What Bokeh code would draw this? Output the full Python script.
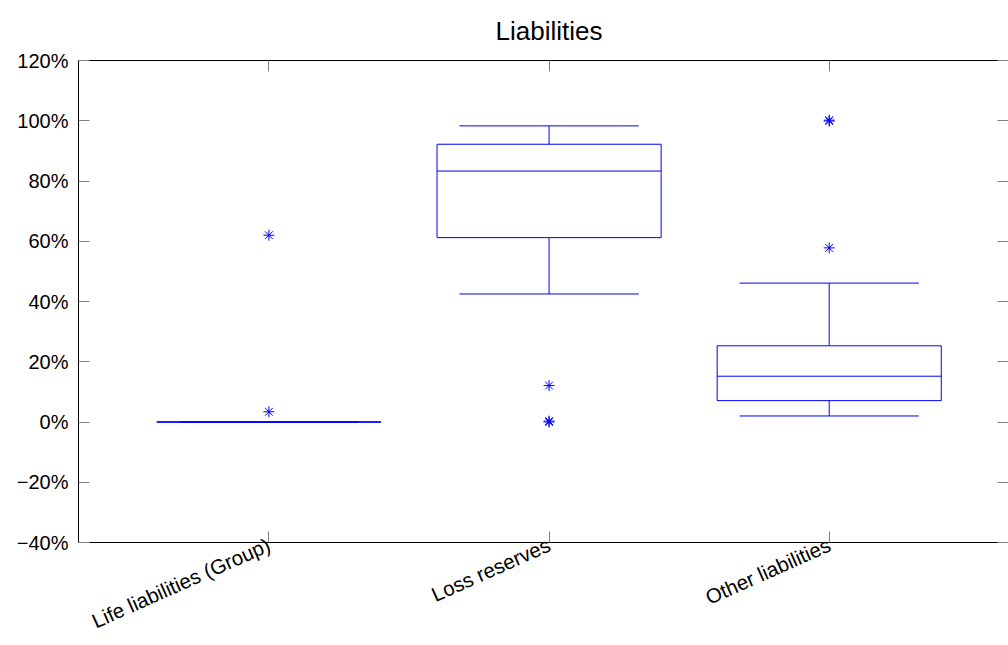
import math
from bokeh.plotting import figure
from bokeh.models import FixedTicker, LinearAxis, Range1d, ColumnDataSource
from bokeh.embed import file_html
from bokeh.resources import INLINE

# ---- data (values in percent) ----
categories = ["Life liabilities (Group)", "Loss reserves", "Other liabilities"]
positions = [1, 2, 3]
lower_whisker = [0.0, 42.5, 2.0]
q1 = [0.0, 61.2, 7.1]
median = [0.0, 83.3, 15.2]
q3 = [0.0, 92.2, 25.3]
upper_whisker = [0.0, 98.3, 46.1]
outlier_pos = [1, 1, 2, 2, 2, 3, 3, 3]
outlier_val = [62.0, 3.4, 12.1, 0.0, 0.3, 99.9, 100.2, 57.8]
yticks = [-40, -20, 0, 20, 40, 60, 80, 100, 120]

BLUE = "#0000ff"
FONT = "Liberation Sans"
box_w = 0.8
cap_w = 0.64

src = ColumnDataSource(dict(
    pos=positions,
    left=[p - box_w / 2 for p in positions],
    right=[p + box_w / 2 for p in positions],
    cl=[p - cap_w / 2 for p in positions],
    cr=[p + cap_w / 2 for p in positions],
    lw=lower_whisker, q1=q1, med=median, q3=q3, uw=upper_whisker,
))

p = figure(width=1008, height=645, output_backend="svg", toolbar_location=None,
           x_range=Range1d(0.3202, 3.640), y_range=Range1d(-40, 120),
           min_border_left=78, min_border_right=0, min_border_top=60, min_border_bottom=98,
           title="Liabilities")

p.title.align = "left"
p.title.offset = 417
p.title.text_font = FONT
p.title.text_font_size = "26px"
p.title.text_font_style = "normal"
p.title.text_color = "black"
p.title.vertical_align = "top"
p.title.standoff = 26

p.xgrid.visible = False
p.ygrid.visible = False
p.outline_line_color = None
p.background_fill_color = "white"
p.border_fill_color = "white"

# whiskers
p.segment(x0="pos", y0="q3", x1="pos", y1="uw", source=src, line_color=BLUE, line_width=1)
p.segment(x0="pos", y0="lw", x1="pos", y1="q1", source=src, line_color=BLUE, line_width=1)
p.segment(x0="cl", y0="uw", x1="cr", y1="uw", source=src, line_color=BLUE, line_width=1)
p.segment(x0="cl", y0="lw", x1="cr", y1="lw", source=src, line_color=BLUE, line_width=1)
# boxes
p.quad(left="left", right="right", bottom="q1", top="q3", source=src,
       fill_color=None, line_color=BLUE, line_width=1)
# medians
p.segment(x0="left", y0="med", x1="right", y1="med", source=src, line_color=BLUE, line_width=1)
# outliers
p.scatter(x=outlier_pos, y=outlier_val, marker="asterisk", size=11, line_color=BLUE, line_width=1)

# axes
def style(ax, labels=True):
    ax.axis_line_color = "black"
    ax.axis_line_width = 1
    ax.major_tick_in = 11
    ax.major_tick_out = 0
    ax.minor_tick_in = 0
    ax.minor_tick_out = 0
    ax.major_tick_line_color = "#808080"
    ax.major_label_text_font = FONT
    ax.major_label_text_font_size = "20px"
    ax.major_label_text_color = "black"
    if not labels:
        ax.major_label_text_font_size = "1px"
        ax.major_label_standoff = 0

p.xaxis.ticker = FixedTicker(ticks=positions)
p.xaxis.major_label_overrides = {pp: c for pp, c in zip(positions, categories)}
p.xaxis.major_label_orientation = math.radians(24)
p.xaxis.major_label_standoff = 1
style(p.xaxis[0])
p.xaxis.major_label_text_font_size = "20.5px"

p.yaxis.ticker = FixedTicker(ticks=yticks)
p.yaxis.major_label_overrides = {t: (f"\u2212{abs(t)}%" if t < 0 else f"{t}%") for t in yticks}
p.yaxis.major_label_standoff = 10
style(p.yaxis[0])

top_ax = LinearAxis(ticker=FixedTicker(ticks=positions))
style(top_ax, labels=False)
top_ax.major_label_overrides = {pp: "" for pp in positions}
p.add_layout(top_ax, "above")

right_ax = LinearAxis(ticker=FixedTicker(ticks=yticks))
style(right_ax, labels=False)
right_ax.axis_line_color = None
right_ax.major_label_overrides = {t: "" for t in yticks}
p.add_layout(right_ax, "right")

open("out.html", "w").write(file_html(p, INLINE))
